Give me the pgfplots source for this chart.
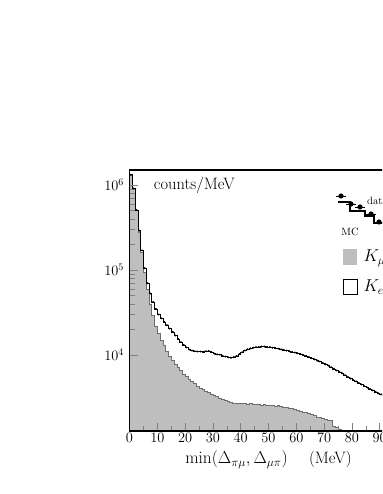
\documentclass[border=0pt]{standalone}
\usepackage{pgfplots}
\usepackage{pgfplotstable}
\pgfplotsset{compat=1.18}
\definecolor{mugray}{HTML}{BEBEBE}
\definecolor{muedge}{HTML}{6E6E6E}

% bin left edge, K_mu3 MC, total MC (counts/MeV)
\pgfplotstableread{
x gray total
0 1.30e6 1.32e6
1 8.9e5 9.1e5
2 5.0e5 5.1e5
3 2.8e5 2.9e5
4 1.6e5 1.7e5
5 9.5e4 1.05e5
6 6.0e4 7.0e4
7 4.0e4 5.3e4
8 2.9e4 4.2e4
9 2.2e4 3.5e4
10 1.8e4 3.0e4
11 1.5e4 2.7e4
12 1.3e4 2.45e4
13 1.12e4 2.25e4
14 9.8e3 2.05e4
15 8.8e3 1.88e4
16 7.9e3 1.70e4
17 7.2e3 1.55e4
18 6.6e3 1.42e4
19 6.0e3 1.32e4
20 5.6e3 1.23e4
21 5.2e3 1.16e4
22 4.9e3 1.13e4
23 4.6e3 1.11e4
24 4.3e3 1.10e4
25 4.1e3 1.10e4
26 3.95e3 1.09e4
27 3.8e3 1.11e4
28 3.65e3 1.12e4
29 3.5e3 1.08e4
30 3.35e3 1.04e4
31 3.25e3 1.02e4
32 3.1e3 1.01e4
33 3.0e3 9.8e3
34 2.95e3 9.6e3
35 2.85e3 9.4e3
36 2.8e3 9.3e3
37 2.75e3 9.5e3
38 2.72e3 9.8e3
39 2.7e3 1.03e4
40 2.68e3 1.08e4
41 2.72e3 1.13e4
42 2.66e3 1.17e4
43 2.70e3 1.20e4
44 2.67e3 1.22e4
45 2.63e3 1.24e4
46 2.66e3 1.25e4
47 2.60e3 1.26e4
48 2.62e3 1.26e4
49 2.58e3 1.25e4
50 2.60e3 1.24e4
51 2.55e3 1.22e4
52 2.52e3 1.21e4
53 2.55e3 1.19e4
54 2.48e3 1.17e4
55 2.45e3 1.15e4
56 2.42e3 1.13e4
57 2.40e3 1.11e4
58 2.34e3 1.09e4
59 2.30e3 1.07e4
60 2.25e3 1.05e4
61 2.20e3 1.03e4
62 2.15e3 1.00e4
63 2.12e3 9.8e3
64 2.05e3 9.5e3
65 2.00e3 9.2e3
66 1.95e3 8.9e3
67 1.88e3 8.6e3
68 1.85e3 8.4e3
69 1.80e3 8.1e3
70 1.76e3 7.8e3
71 1.72e3 7.5e3
72 1.70e3 7.2e3
73 1.45e3 6.9e3
74 1.40e3 6.6e3
75 1.36e3 6.35e3
76 1.32e3 6.1e3
77 1.28e3 5.8e3
78 1.15e3 5.55e3
79 1.0e3 5.3e3
80 900 5.1e3
81 800 4.9e3
82 700 4.7e3
83 600 4.5e3
84 500 4.3e3
85 400 4.15e3
86 300 4.0e3
87 250 3.85e3
88 200 3.7e3
89 150 3.55e3
90 120 3.45e3
91 100 3.35e3
92 90 3.25e3
93 80 3.15e3
94 70 3.05e3
95 60 2.95e3
96 50 2.85e3
97 40 2.75e3
98 30 2.65e3
99 25 2.55e3
100 25 2.55e3
}\tbl

\begin{document}
\begin{tikzpicture}[x=1pt,y=1pt]
\useasboundingbox (0,0) rectangle (382,494);
\clip (0,0) rectangle (382,494);
\begin{axis}[
    at={(129.5pt,63pt)}, anchor=south west,
    scale only axis, width=278pt, height=261pt,
    ymode=log,
    xmin=0, xmax=100, ymin=1280, ymax=1.5e6,
    xtick distance=10, minor x tick num=1,
    ytick={1e4,1e5,1e6},
    tick align=inside, xtick pos=bottom, ytick pos=left,
    major tick length=8pt, minor tick length=5.5pt,
    x tick style={line width=0.6pt}, y tick style={line width=0.6pt},
    axis line style={line width=1.2pt},
    tick label style={font=\fontsize{14}{16}\selectfont},
    yticklabel style={xshift=-2pt},
    xticklabel style={yshift=1pt},
    xlabel={$\min(\Delta_{\pi\mu},\Delta_{\mu\pi})\quad$ (MeV)},
    xlabel style={font=\fontsize{16.5}{19}\selectfont, yshift=-1pt},
    axis on top,
    log origin=infty,
]
\addplot[const plot, fill=mugray, draw=muedge, line width=0.5pt]
    table[x=x, y=gray] {\tbl} \closedcycle;
\addplot[const plot, black, line width=0.5pt]
    table[x=x, y=total] {\tbl};
\addplot[only marks, mark=*, mark size=0.75pt, black]
    table[x expr=\thisrow{x}+0.5, y=total] {\tbl};
\node[anchor=west, font=\fontsize{16.5}{19}\selectfont] at (rel axis cs:0.075,0.94) {counts/MeV};
\end{axis}
% legend
\draw[line width=1.1pt] (338,292) -- (350,292) -- (350,283) -- (365,283) -- (365,278) -- (374,278) -- (374,271) -- (390,271);
\foreach \px/\py in {341/298, 351/290, 360/287, 371/280, 379/272} {
  \draw[line width=0.7pt] (\px-5,\py) -- (\px+5,\py);
  \fill (\px,\py) circle (2.6pt);
}
\node[anchor=base west, font=\fontsize{10.5}{12}\selectfont, inner sep=0pt] at (367,289) {data};
\node[anchor=center, font=\fontsize{10.5}{12}\selectfont, inner sep=0pt] at (350,262) {MC};
\fill[mugray] (343,229) rectangle (357,245);
\draw[line width=0.5pt] (343,200) rectangle (357,215);
\node[anchor=west, font=\fontsize{17}{19}\selectfont] at (360,236) {$K_{\mu3}$};
\node[anchor=west, font=\fontsize{17}{19}\selectfont] at (360,207) {$K_{e3}$};
\end{tikzpicture}
\end{document}
